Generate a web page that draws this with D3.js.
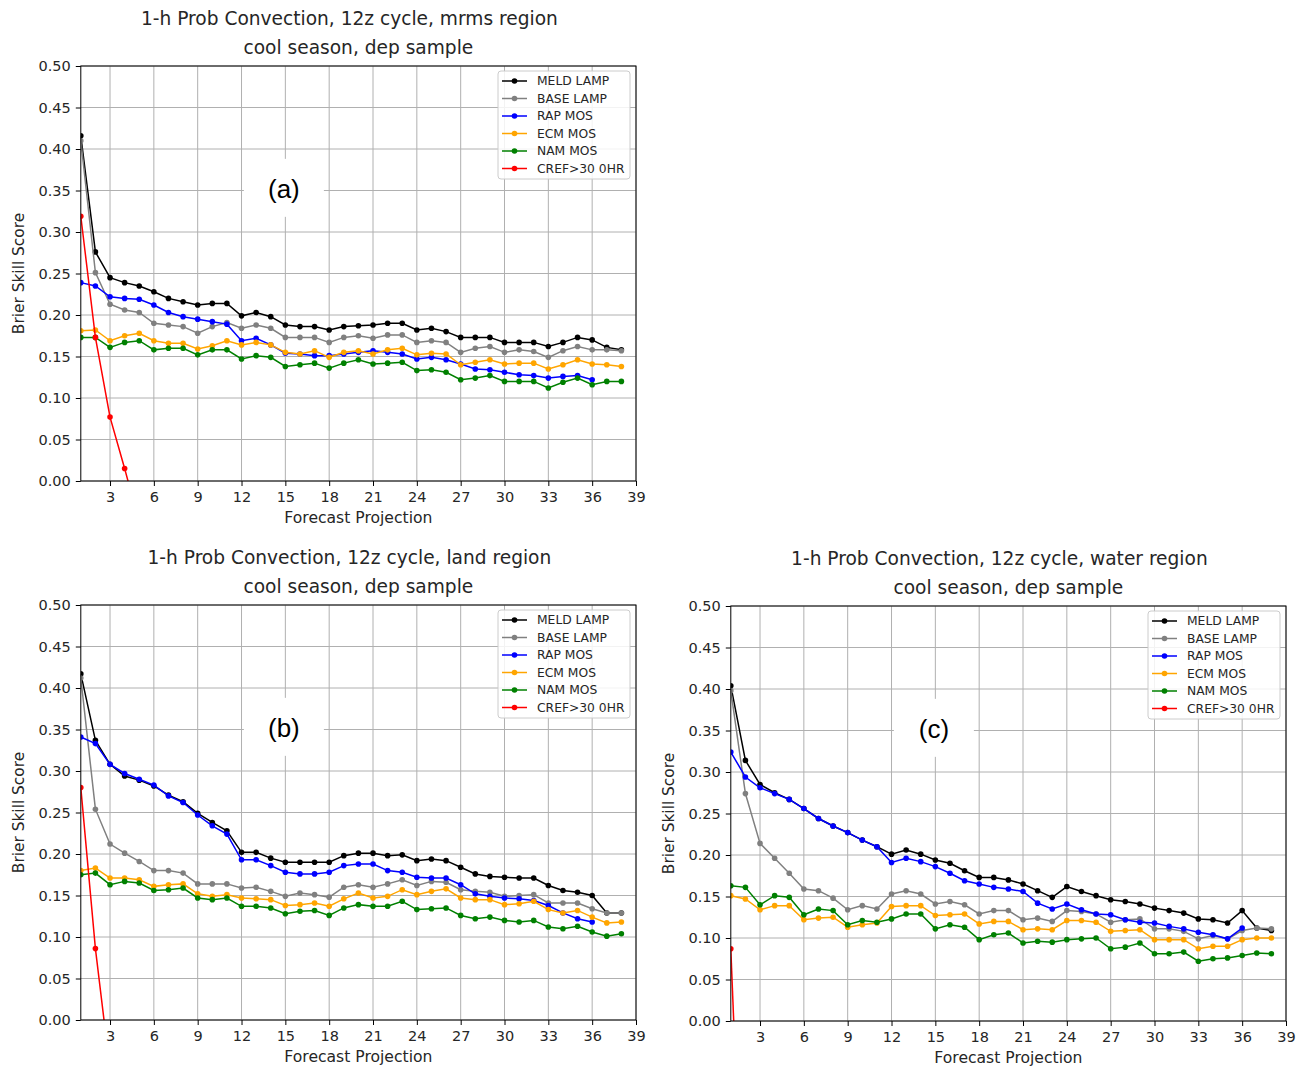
<!DOCTYPE html>
<html>
<head>
<meta charset="utf-8">
<script src="https://cdn.jsdelivr.net/npm/d3@7"></script>
<style>
  html, body { margin: 0; padding: 0; background: #fff; }
  svg { display: block; }
  text { font-family: "DejaVu Sans", sans-serif; fill: #262626; }
</style>
</head>
<body>
<svg id="chart" width="1297" height="1067"></svg>
<script>
// Forecast projection hours and axis ticks
const hours = [1,2,3,4,5,6,7,8,9,10,11,12,13,14,15,16,17,18,19,20,21,22,23,24,25,26,27,28,29,30,31,32,33,34,35,36,37,38];
const xTicks = [3,6,9,12,15,18,21,24,27,30,33,36,39];
const yTicks = [0.00,0.05,0.10,0.15,0.20,0.25,0.30,0.35,0.40,0.45,0.50];
const seriesNames = ["MELD LAMP","BASE LAMP","RAP MOS","ECM MOS","NAM MOS","CREF>30 0HR"];
const seriesColors = ["#000000","#808080","#0000ff","#ffa500","#008000","#ff0000"];

// mrms region
const meldMrms = [0.416,0.276,0.245,0.239,0.235,0.228,0.220,0.216,0.212,0.214,0.214,0.199,0.203,0.198,0.188,0.186,0.186,0.182,0.186,0.187,0.188,0.190,0.190,0.182,0.184,0.180,0.173,0.173,0.173,0.167,0.167,0.167,0.162,0.167,0.173,0.170,0.161,0.158];
const baseMrms = [0.410,0.251,0.213,0.206,0.203,0.190,0.188,0.186,0.178,0.186,0.191,0.184,0.188,0.184,0.173,0.173,0.173,0.167,0.173,0.175,0.172,0.176,0.176,0.167,0.169,0.167,0.155,0.160,0.162,0.155,0.158,0.156,0.149,0.157,0.162,0.158,0.158,0.157];
const rapMrms  = [0.239,0.235,0.222,0.220,0.219,0.212,0.203,0.198,0.195,0.192,0.189,0.169,0.172,0.164,0.154,0.153,0.151,0.151,0.153,0.155,0.157,0.155,0.153,0.147,0.149,0.146,0.141,0.135,0.134,0.131,0.128,0.127,0.124,0.126,0.127,0.122,null,null];
const ecmMrms  = [0.181,0.182,0.169,0.175,0.178,0.169,0.166,0.166,0.159,0.163,0.169,0.164,0.167,0.164,0.155,0.153,0.157,0.149,0.155,0.157,0.153,0.158,0.160,0.152,0.154,0.153,0.140,0.143,0.146,0.141,0.142,0.142,0.135,0.140,0.146,0.141,0.140,0.138];
const namMrms  = [0.173,0.173,0.161,0.167,0.169,0.158,0.160,0.160,0.152,0.158,0.158,0.147,0.151,0.149,0.138,0.140,0.142,0.136,0.142,0.146,0.141,0.142,0.143,0.133,0.134,0.131,0.122,0.124,0.127,0.120,0.120,0.120,0.112,0.119,0.124,0.116,0.120,0.120];
const crefMrms = [0.319,0.173,0.077,0.015,-0.050];

// land region
const meldLand = [0.417,0.337,0.308,0.294,0.289,0.282,0.271,0.263,0.249,0.238,0.228,0.202,0.202,0.195,0.190,0.190,0.190,0.190,0.198,0.201,0.201,0.198,0.199,0.192,0.194,0.192,0.184,0.176,0.173,0.172,0.171,0.171,0.162,0.156,0.154,0.150,0.129,0.129];
const baseLand = [0.412,0.254,0.212,0.201,0.191,0.180,0.180,0.177,0.164,0.164,0.164,0.159,0.160,0.155,0.149,0.153,0.151,0.148,0.160,0.163,0.160,0.164,0.169,0.162,0.167,0.166,0.157,0.155,0.154,0.149,0.150,0.151,0.141,0.141,0.141,0.134,0.129,0.129];
const rapLand  = [0.341,0.333,0.308,0.297,0.290,0.283,0.270,0.262,0.247,0.234,0.224,0.193,0.193,0.186,0.178,0.176,0.176,0.178,0.186,0.188,0.188,0.180,0.178,0.172,0.171,0.171,0.163,0.152,0.149,0.147,0.146,0.144,0.138,0.129,0.122,0.118,null,null];
const ecmLand  = [0.180,0.183,0.171,0.171,0.169,0.161,0.163,0.164,0.152,0.149,0.151,0.147,0.146,0.145,0.138,0.139,0.141,0.137,0.146,0.153,0.147,0.149,0.157,0.151,0.155,0.158,0.147,0.145,0.145,0.139,0.140,0.143,0.133,0.129,0.132,0.124,0.117,0.118];
const namLand  = [0.175,0.177,0.163,0.167,0.165,0.156,0.157,0.159,0.147,0.145,0.147,0.137,0.137,0.135,0.128,0.131,0.132,0.126,0.135,0.139,0.137,0.137,0.143,0.133,0.134,0.135,0.126,0.122,0.124,0.120,0.118,0.120,0.112,0.110,0.113,0.106,0.101,0.104];
const crefLand = [0.280,0.086,-0.060];

// water region
const meldWater = [0.404,0.314,0.285,0.275,0.267,0.256,0.244,0.235,0.227,0.218,0.210,0.201,0.206,0.201,0.194,0.190,0.181,0.173,0.173,0.170,0.165,0.157,0.149,0.162,0.156,0.151,0.146,0.144,0.141,0.136,0.133,0.130,0.123,0.122,0.118,0.133,0.112,0.109];
const baseWater = [0.398,0.274,0.214,0.196,0.178,0.159,0.157,0.148,0.134,0.139,0.135,0.153,0.157,0.153,0.141,0.144,0.140,0.129,0.133,0.133,0.122,0.124,0.120,0.133,0.132,0.129,0.119,0.122,0.123,0.111,0.111,0.108,0.099,0.103,0.099,0.109,0.112,0.111];
const rapWater  = [0.324,0.294,0.281,0.274,0.267,0.256,0.244,0.235,0.227,0.218,0.210,0.191,0.196,0.192,0.186,0.178,0.169,0.165,0.161,0.159,0.156,0.142,0.135,0.141,0.134,0.129,0.128,0.122,0.119,0.118,0.114,0.111,0.107,0.104,0.099,0.112,null,null];
const ecmWater  = [0.151,0.147,0.134,0.139,0.139,0.122,0.124,0.125,0.113,0.116,0.118,0.138,0.139,0.139,0.127,0.128,0.129,0.117,0.120,0.120,0.110,0.111,0.110,0.121,0.121,0.119,0.108,0.109,0.110,0.098,0.098,0.098,0.087,0.090,0.090,0.098,0.100,0.100];
const namWater  = [0.163,0.161,0.140,0.151,0.149,0.128,0.135,0.133,0.116,0.121,0.119,0.123,0.129,0.129,0.111,0.116,0.113,0.098,0.104,0.106,0.094,0.096,0.095,0.098,0.099,0.100,0.087,0.089,0.094,0.081,0.081,0.083,0.072,0.075,0.076,0.079,0.082,0.081];
const crefWater = [0.087,-0.350];

const panels = [
  { id: "a", region: "mrms", left: 80.8, top: 66, right: 636, bottom: 481,
    series: [meldMrms, baseMrms, rapMrms, ecmMrms, namMrms, crefMrms], title1Dx: -9 },
  { id: "b", region: "land", left: 80.8, top: 605, right: 636, bottom: 1020,
    series: [meldLand, baseLand, rapLand, ecmLand, namLand, crefLand], title1Dx: -9 },
  { id: "c", region: "water", left: 730.8, top: 606, right: 1286, bottom: 1021,
    series: [meldWater, baseWater, rapWater, ecmWater, namWater, crefWater], title1Dx: -9 }
];

const svg = d3.select("#chart");

panels.forEach(p => {
  const x = d3.scaleLinear().domain([1, 39]).range([p.left, p.right]);
  const y = d3.scaleLinear().domain([0, 0.5]).range([p.bottom, p.top]);
  const g = svg.append("g");
  const cx = (p.left + p.right) / 2;

  // titles
  g.append("text").attr("x", cx + p.title1Dx).attr("y", p.top - 41)
    .attr("text-anchor", "middle").style("font-size", "18.6px")
    .text(`1-h Prob Convection, 12z cycle, ${p.region} region`);
  g.append("text").attr("x", cx).attr("y", p.top - 12)
    .attr("text-anchor", "middle").style("font-size", "18.6px")
    .text("cool season, dep sample");

  // grid
  const grid = g.append("g").attr("stroke", "#b0b0b0").attr("stroke-width", 1);
  grid.selectAll(".gx").data(xTicks).join("line")
    .attr("x1", d => x(d)).attr("x2", d => x(d))
    .attr("y1", p.top).attr("y2", p.bottom);
  grid.selectAll(".gy").data(yTicks).join("line")
    .attr("x1", p.left).attr("x2", p.right)
    .attr("y1", d => y(d)).attr("y2", d => y(d));

  // panel tag with white backing
  const tag = g.append("g").attr("transform", `translate(${x(14.9)},${y(0.352)})`);
  tag.append("rect").attr("x", -40).attr("y", -30).attr("width", 80).attr("height", 58).attr("fill", "#fff");
  tag.append("text").attr("text-anchor", "middle").attr("dy", "0.36em")
    .style("font-family", "'Liberation Sans', Arial, sans-serif").style("font-size", "26px")
    .style("fill", "#000").text(`(${p.id})`);

  // clip region for data
  const clipId = `clip-${p.id}`;
  svg.append("clipPath").attr("id", clipId).append("rect")
    .attr("x", p.left).attr("y", p.top).attr("width", p.right - p.left).attr("height", p.bottom - p.top);

  const data = g.append("g").attr("clip-path", `url(#${clipId})`);
  const line = d3.line().defined(d => d.v != null).x(d => x(d.h)).y(d => y(d.v));
  p.series.forEach((vals, i) => {
    const pts = vals.map((v, k) => ({ h: hours[k], v }));
    data.append("path").datum(pts).attr("d", line)
      .attr("fill", "none").attr("stroke", seriesColors[i]).attr("stroke-width", 1.5);
    data.append("g").selectAll("circle").data(pts.filter(d => d.v != null)).join("circle")
      .attr("cx", d => x(d.h)).attr("cy", d => y(d.v)).attr("r", 2.8)
      .attr("fill", seriesColors[i]);
  });

  // axes
  const xAxis = d3.axisBottom(x).tickValues(xTicks).tickSize(5).tickPadding(6).tickFormat(d3.format("d"));
  const yAxis = d3.axisLeft(y).tickValues(yTicks).tickSize(5).tickPadding(5).tickFormat(d3.format(".2f"));
  const gx = g.append("g").attr("transform", `translate(0,${p.bottom})`).call(xAxis);
  const gy = g.append("g").attr("transform", `translate(${p.left},0)`).call(yAxis);
  [gx, gy].forEach(a => {
    a.select(".domain").remove();
    a.selectAll("line").attr("stroke", "#000").attr("stroke-width", 1);
    a.selectAll("text").style("font-size", "14.5px").style("font-family", "'DejaVu Sans', sans-serif").attr("fill", "#262626");
  });

  // frame
  g.append("rect").attr("x", p.left).attr("y", p.top)
    .attr("width", p.right - p.left).attr("height", p.bottom - p.top)
    .attr("fill", "none").attr("stroke", "#000").attr("stroke-width", 1);

  // axis titles
  g.append("text").attr("x", cx).attr("y", p.bottom + 41.5)
    .attr("text-anchor", "middle").style("font-size", "15.6px").text("Forecast Projection");
  g.append("text").attr("transform", `translate(${p.left - 57},${(p.top + p.bottom) / 2}) rotate(-90)`)
    .attr("text-anchor", "middle").style("font-size", "15.4px").text("Brier Skill Score");

  // legend
  const lg = g.append("g").attr("transform", `translate(${p.right - 138},${p.top + 5})`);
  lg.append("rect").attr("width", 132).attr("height", 108).attr("rx", 3)
    .attr("fill", "#fff").attr("fill-opacity", 0.85).attr("stroke", "#cccccc");
  seriesNames.forEach((name, i) => {
    const row = lg.append("g").attr("transform", `translate(0,${10 + i * 17.5})`);
    row.append("line").attr("x1", 4).attr("x2", 29).attr("stroke", seriesColors[i]).attr("stroke-width", 1.5);
    row.append("circle").attr("cx", 16.5).attr("r", 2.8).attr("fill", seriesColors[i]);
    row.append("text").attr("x", 39).attr("dy", "0.35em").style("font-size", "12.3px").text(name);
  });
});
</script>
</body>
</html>
